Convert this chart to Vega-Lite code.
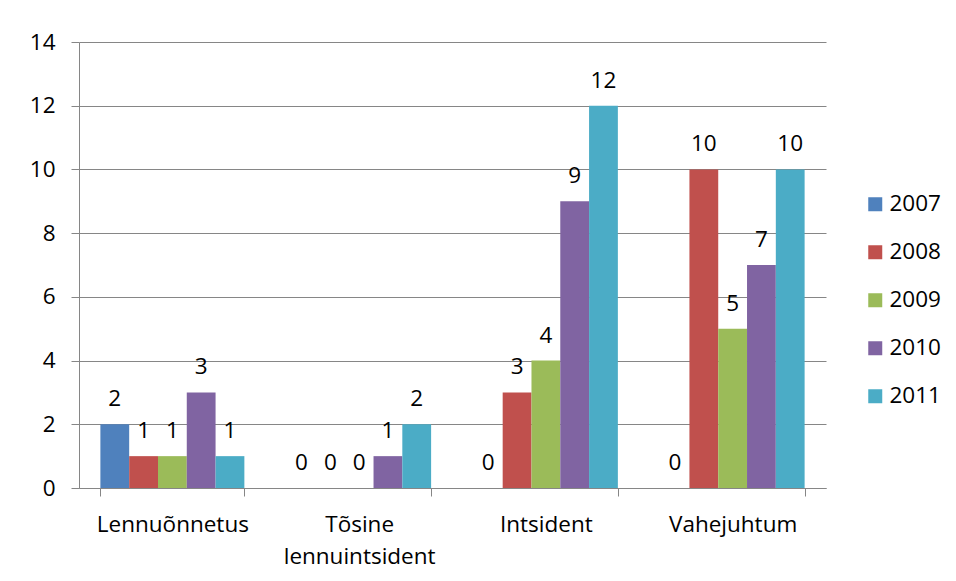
{
  "$schema": "https://vega.github.io/schema/vega-lite/v6.json",
  "width": 747,
  "height": 446,
  "autosize": {"type": "none"},
  "padding": {"left": 79, "top": 42, "right": 130, "bottom": 93},
  "background": "white",
  "config": {
    "font": "Open Sans",
    "view": {"stroke": null}
  },
  "data": {
    "values": [
      {"kategooria": "Lennuõnnetus", "aasta": "2007", "arv": 2},
      {"kategooria": "Lennuõnnetus", "aasta": "2008", "arv": 1},
      {"kategooria": "Lennuõnnetus", "aasta": "2009", "arv": 1},
      {"kategooria": "Lennuõnnetus", "aasta": "2010", "arv": 3},
      {"kategooria": "Lennuõnnetus", "aasta": "2011", "arv": 1},
      {"kategooria": "Tõsine lennuintsident", "aasta": "2007", "arv": 0},
      {"kategooria": "Tõsine lennuintsident", "aasta": "2008", "arv": 0},
      {"kategooria": "Tõsine lennuintsident", "aasta": "2009", "arv": 0},
      {"kategooria": "Tõsine lennuintsident", "aasta": "2010", "arv": 1},
      {"kategooria": "Tõsine lennuintsident", "aasta": "2011", "arv": 2},
      {"kategooria": "Intsident", "aasta": "2007", "arv": 0},
      {"kategooria": "Intsident", "aasta": "2008", "arv": 3},
      {"kategooria": "Intsident", "aasta": "2009", "arv": 4},
      {"kategooria": "Intsident", "aasta": "2010", "arv": 9},
      {"kategooria": "Intsident", "aasta": "2011", "arv": 12},
      {"kategooria": "Vahejuhtum", "aasta": "2007", "arv": 0},
      {"kategooria": "Vahejuhtum", "aasta": "2008", "arv": 10},
      {"kategooria": "Vahejuhtum", "aasta": "2009", "arv": 5},
      {"kategooria": "Vahejuhtum", "aasta": "2010", "arv": 7},
      {"kategooria": "Vahejuhtum", "aasta": "2011", "arv": 10}
    ]
  },
  "encoding": {
    "x": {
      "field": "kategooria",
      "type": "nominal",
      "sort": null,
      "scale": {"paddingInner": 0.229, "paddingOuter": 0.1145},
      "axis": {
        "title": null,
        "labelAngle": 0,
        "tickBand": "extent",
        "tickSize": 8,
        "tickColor": "#868686",
        "domainColor": "#868686",
        "labelFontSize": 22.5,
        "labelColor": "#000000",
        "labelPadding": 17,
        "labelLineHeight": 32,
        "labelExpr": "datum.label == 'Tõsine lennuintsident' ? ['Tõsine', 'lennuintsident'] : datum.label"
      }
    },
    "y": {
      "field": "arv",
      "type": "quantitative",
      "scale": {"domain": [0, 14], "nice": false},
      "axis": {
        "title": null,
        "values": [0, 2, 4, 6, 8, 10, 12, 14],
        "grid": true,
        "gridColor": "#868686",
        "gridOpacity": 1,
        "tickSize": 8,
        "tickColor": "#868686",
        "domainColor": "#868686",
        "labelFontSize": 22.5,
        "labelColor": "#000000",
        "labelPadding": 16
      }
    },
    "xOffset": {
      "field": "aasta",
      "type": "nominal",
      "scale": {"paddingInner": 0, "paddingOuter": 0}
    }
  },
  "layer": [
    {
      "mark": {"type": "bar"},
      "encoding": {
        "color": {
          "field": "aasta",
          "type": "nominal",
          "scale": {
            "domain": ["2007", "2008", "2009", "2010", "2011"],
            "range": ["#4F81BD", "#C0504D", "#9BBB59", "#8064A2", "#4BACC6"]
          },
          "legend": {
            "title": null,
            "orient": "none",
            "legendX": 785,
            "legendY": 151,
            "padding": 0,
            "symbolType": "square",
            "symbolSize": 196,
            "symbolStrokeWidth": 0,
            "labelFontSize": 22.5,
            "labelColor": "#000000",
            "labelOffset": 3,
            "rowPadding": 25
          }
        }
      }
    },
    {
      "mark": {
        "type": "text",
        "baseline": "alphabetic",
        "dy": -18,
        "fontSize": 22.5,
        "color": "#000000"
      },
      "encoding": {
        "text": {"field": "arv", "type": "quantitative"}
      }
    }
  ]
}
